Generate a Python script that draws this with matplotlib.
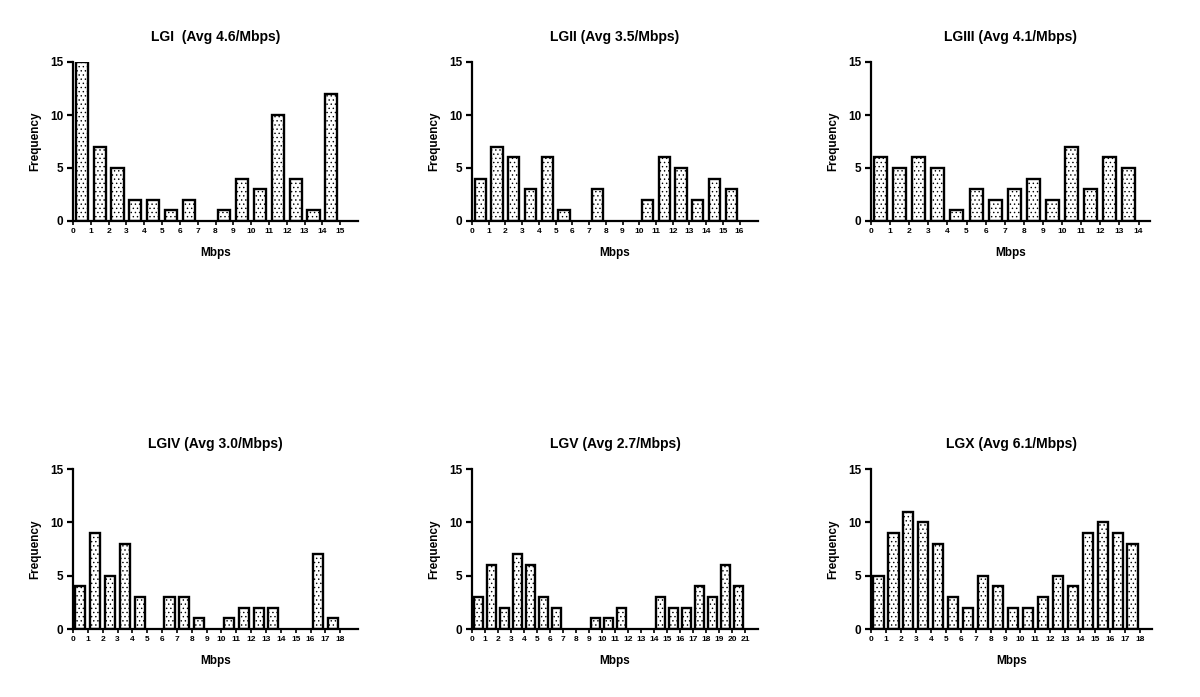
import matplotlib.pyplot as plt
import numpy as np

plt.rcParams['font.family'] = ['Liberation Sans', 'DejaVu Sans']
plt.rcParams['hatch.color'] = '#bdbdbd'
plt.rcParams['hatch.linewidth'] = 0.5

titles = ["LGI  (Avg 4.6/Mbps)", "LGII (Avg 3.5/Mbps)", "LGIII (Avg 4.1/Mbps)",
          "LGIV (Avg 3.0/Mbps)", "LGV (Avg 2.7/Mbps)", "LGX (Avg 6.1/Mbps)"]

lgi = [15, 7, 5, 2, 2, 1, 2, 0, 1, 4, 3, 10, 4, 1, 12]
lgii = [4, 7, 6, 3, 6, 1, 0, 3, 0, 0, 2, 6, 5, 2, 4, 3]
lgiii = [6, 5, 6, 5, 1, 3, 2, 3, 4, 2, 7, 3, 6, 5]
lgiv = [4, 9, 5, 8, 3, 0, 3, 3, 1, 0, 1, 2, 2, 2, 0, 0, 7, 1]
lgv = [3, 6, 2, 7, 6, 3, 2, 0, 0, 1, 1, 2, 0, 0, 3, 2, 2, 4, 3, 6, 4]
lgx = [5, 9, 11, 10, 8, 3, 2, 5, 4, 2, 2, 3, 5, 4, 9, 10, 9, 8]

series = [lgi, lgii, lgiii, lgiv, lgv, lgx]
xmax = [16.0, 17.1, 14.6, 19.2, 22.0, 18.8]

# axes boxes in pixels: left, right, top, bottom
W, H = 1200, 697
boxes = [(73, 358, 62, 221), (472, 758, 62, 221), (871, 1150, 62, 221),
         (73, 358, 469, 629), (472, 758, 469, 629), (871, 1152, 469, 629)]

fig = plt.figure(figsize=(12, 6.97), dpi=100)

for k in range(6):
    l, r, t, b = boxes[k]
    ax = fig.add_axes([l / W, (H - b) / H, (r - l) / W, (b - t) / H])
    vals = series[k]
    n = len(vals)
    centers = np.arange(n) + 0.5
    heights = np.array(vals, dtype=float)
    mask = heights > 0
    ax.bar(centers[mask], heights[mask], width=0.68, color='white',
           edgecolor='black', linewidth=1.7, hatch='....', zorder=2)
    ax.set_xlim(0, xmax[k])
    ax.set_ylim(0, 15)
    ax.set_xticks(np.arange(n + 1))
    ax.set_xticklabels([str(i) for i in range(n + 1)], fontsize=6, fontweight='bold')
    ax.set_yticks([0, 5, 10, 15])
    ax.set_yticklabels(['0', '5', '10', '15'], fontsize=8.5, fontweight='bold')
    for side in ['top', 'right']:
        ax.spines[side].set_visible(False)
    for side in ['left', 'bottom']:
        ax.spines[side].set_linewidth(1.6)
    ax.tick_params(axis='x', length=3, width=1.2, pad=2)
    ax.tick_params(axis='y', length=4, width=1.6, pad=3)
    ax.set_title(titles[k], fontsize=10, fontweight='bold', pad=15)
    ax.set_xlabel("Mbps", fontsize=8.5, fontweight='bold', labelpad=9)
    ax.set_ylabel("Frequency", fontsize=8.5, fontweight='bold', labelpad=6)
    ax.set_facecolor('none')

fig.savefig("out.png", dpi=100)
